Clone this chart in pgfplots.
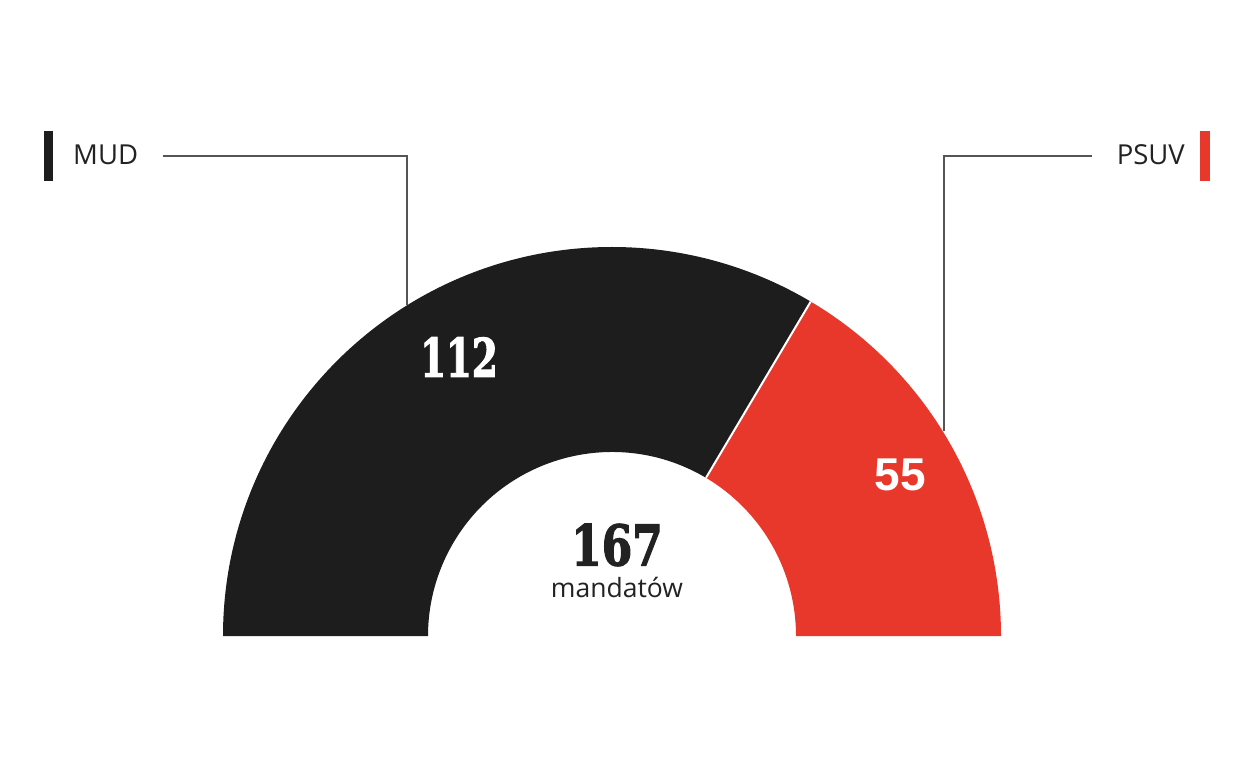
\documentclass[border=0pt]{standalone}
\usepackage{pgfplots}
\usepackage{pgfplotstable}
\usepackage{graphicx}
\usepackage{fontspec}
\pgfplotsset{compat=1.18}
\setmainfont{Open Sans}
\newfontfamily\slabfont{DejaVu Serif Condensed Bold}[FakeBold=2.2]
\newfontfamily\numsans{Liberation Sans}
\definecolor{mudc}{HTML}{1D1D1D}
\definecolor{psuvc}{HTML}{E8372B}
\definecolor{txt}{HTML}{222222}
\definecolor{leader}{HTML}{555555}

\pgfplotstableread{
party seats
MUD 112
PSUV 55
}\seatdata

\begin{document}
\begin{tikzpicture}
\pgfplotstablegetelem{0}{seats}\of\seatdata
\let\mudseats\pgfplotsretval
\pgfplotstablegetelem{1}{seats}\of\seatdata
\let\psuvseats\pgfplotsretval
\pgfmathsetmacro\total{\mudseats+\psuvseats}
\pgfmathsetmacro\frac{\mudseats/\total}
\pgfmathsetmacro\split{180-180*\frac}
\pgfmathsetmacro\ix{612+184*cos(\split)}
\pgfmathsetmacro\iy{144+184*sin(\split)}
\pgfmathsetmacro\ox{612+389*cos(\split)}
\pgfmathsetmacro\oy{144+389*sin(\split)}
\begin{axis}[
  x=1pt, y=1pt,
  xmin=0, xmax=1250, ymin=0, ymax=780,
  hide axis, clip=false,
  scale only axis,
]
\addplot[draw=none, forget plot] coordinates {(0,0) (1250,780)};
\path (axis cs:0,0) rectangle (axis cs:1250,780);
% MUD wedge
\fill[mudc] (axis cs:223,144) arc[start angle=180, end angle=\split, radius=389pt]
  -- (axis cs:\ix,\iy) arc[start angle=\split, end angle=180, radius=184pt] -- cycle;
% PSUV wedge
\fill[psuvc] (axis cs:\ox,\oy) arc[start angle=\split, end angle=0, radius=389pt]
  -- (axis cs:796,144) arc[start angle=0, end angle=\split, radius=184pt] -- cycle;
% separator
\draw[white, line width=2pt] (axis cs:\ix,\iy) -- (axis cs:\ox,\oy);
% leader lines
\draw[leader, line width=1.3pt] (axis cs:163,624) -- (axis cs:407,624) -- (axis cs:407,475);
\draw[leader, line width=1.3pt] (axis cs:1092,624) -- (axis cs:944,624) -- (axis cs:944,349);
% legend bars
\fill[mudc] (axis cs:44,599) rectangle (axis cs:53,649);
\fill[psuvc] (axis cs:1200,599) rectangle (axis cs:1210,649);
% labels
\node[anchor=base west, text=txt, inner sep=0pt] at (axis cs:73,615) {\fontsize{27.5}{33}\selectfont MUD};
\node[anchor=base east, text=txt, inner sep=0pt] at (axis cs:1185,615) {\fontsize{27.5}{33}\selectfont PSUV};
\node[text=white, inner sep=0pt] at (axis cs:459,423) {\scalebox{0.78}[1]{\fontsize{53}{60}\selectfont\slabfont \mudseats}};
\node[text=white, inner sep=0pt] at (axis cs:900,305) {\fontsize{46}{54}\selectfont\numsans\bfseries \psuvseats};
\node[text=txt, inner sep=0pt] at (axis cs:617,235) {\scalebox{0.87}[1]{\fontsize{56}{62}\selectfont\slabfont 167}};
\node[anchor=base, text=txt, inner sep=0pt] at (axis cs:617,183) {\fontsize{26.5}{32}\selectfont mandatów};
\end{axis}
\end{tikzpicture}
\end{document}
